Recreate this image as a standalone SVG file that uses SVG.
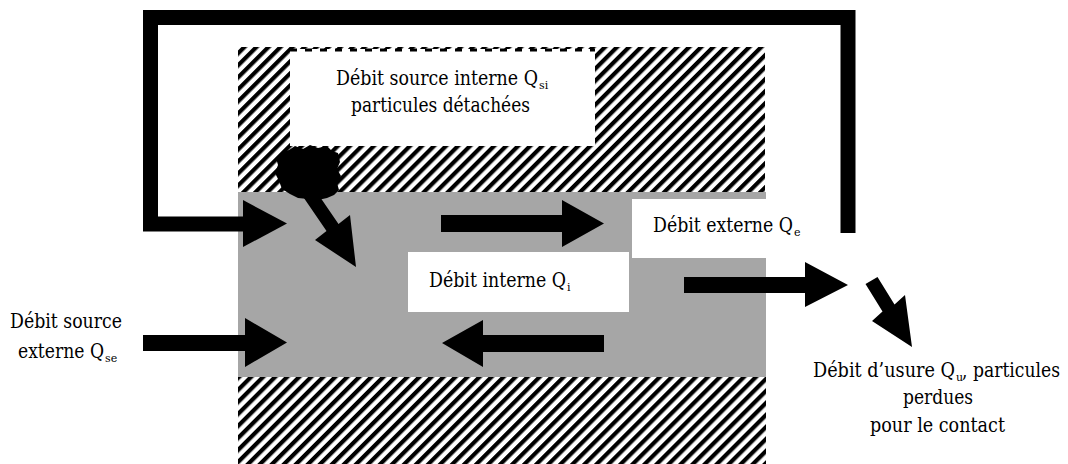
<svg xmlns="http://www.w3.org/2000/svg" width="1068" height="464" viewBox="0 0 1068 464">
  <defs>
    <pattern id="hatch" width="8.5" height="20" patternUnits="userSpaceOnUse" patternTransform="rotate(45)">
      <rect x="0" y="0" width="4.2" height="20" fill="#000"/>
    </pattern>
  </defs>
  <style>
    text { font-family: "DejaVu Serif", serif; font-size: 20px; fill: #000; }
    text.sub { font-size: 11px; }
    .hatch { fill: url(#hatch); }
    .gray { fill: #a6a6a6; }
    .box { fill: #fff; }
    .arrow { fill: #000; }
  </style>
  <rect width="1068" height="464" fill="#fff"/>

  <g id="node-third-body">
    <rect class="gray" x="238" y="192" width="528" height="185"/>
  </g>

  <g id="node-top-block">
    <rect class="hatch" x="238" y="47" width="527" height="145"/>
    <rect class="box" x="290" y="49" width="305" height="97"/>
    <line x1="290" y1="50" x2="595" y2="50" stroke="#000" stroke-width="3" stroke-dasharray="7 8"/>
    <text x="336" y="85" textLength="202" lengthAdjust="spacingAndGlyphs">Débit source interne Q</text>
    <text class="sub" x="539" y="89">si</text>
    <text x="351" y="112" textLength="179" lengthAdjust="spacingAndGlyphs">particules détachées</text>
  </g>

  <g id="node-bottom-block">
    <rect class="hatch" x="238" y="377" width="528" height="87"/>
  </g>

  <g id="node-debit-externe">
    <rect class="box" x="632" y="199" width="134" height="59"/>
    <text x="653" y="232" textLength="140" lengthAdjust="spacingAndGlyphs">Débit externe Q</text>
    <text class="sub" x="794" y="236">e</text>
  </g>

  <g id="node-debit-interne">
    <rect class="box" x="408" y="252" width="221" height="60"/>
    <text x="429" y="287" textLength="137" lengthAdjust="spacingAndGlyphs">Débit interne Q</text>
    <text class="sub" x="567" y="291">i</text>
  </g>

  <g id="node-source-externe">
    <text x="10" y="328" textLength="112" lengthAdjust="spacingAndGlyphs">Débit source</text>
    <text x="18" y="358" textLength="86" lengthAdjust="spacingAndGlyphs">externe Q</text>
    <text class="sub" x="105" y="362">se</text>
  </g>

  <g id="node-usure">
    <text x="813" y="377" textLength="142" lengthAdjust="spacingAndGlyphs">Débit d’usure Q</text>
    <text class="sub" x="956" y="381">u</text>
    <text x="962" y="377" textLength="98" lengthAdjust="spacingAndGlyphs">, particules</text>
    <text x="903" y="403.5" textLength="70" lengthAdjust="spacingAndGlyphs">perdues</text>
    <text x="870" y="432" textLength="135" lengthAdjust="spacingAndGlyphs">pour le contact</text>
  </g>

  <g id="node-particle">
    <path class="arrow" d="M276 158 L282 152 L289 150 L295 146 L303 149 L310 145 L318 148 L327 146 L332 151 L338 153 L340 162 L337 169 L341 176 L337 183 L339 190 L334 195 L327 198 L318 200 L308 199 L298 198 L290 194 L282 189 L279 181 L275 173 L278 165 Z"/>
  </g>

  <g id="connectors">
    <path d="M848 233 V17.5 H150.5 V224 H245" fill="none" stroke="#000" stroke-width="15" stroke-linejoin="miter"/>
    <polygon class="arrow" points="243,200 287,223.5 243,247"/>
    <polygon class="arrow" points="441,215 562,215 562,200 604,223.5 562,247 562,232 441,232"/>
    <polygon class="arrow" points="684,277 805,277 805,262 848,285 805,307 805,293 684,293"/>
    <polygon class="arrow" points="143,335 245,335 245,318 287,342.5 245,367 245,351 143,351"/>
    <polygon class="arrow" points="604,335 483,335 483,320 442,343 483,367 483,352 604,352"/>
    <polygon class="arrow" points="306,176.4 338.5,223.9 350,215 356,267 315,240 326.5,231.1 294,183.6"/>
    <polygon class="arrow" points="877.5,276.9 894.5,304.4 905,295 912,347 872,321 882.5,311.6 865.5,284.1"/>
  </g>
</svg>
